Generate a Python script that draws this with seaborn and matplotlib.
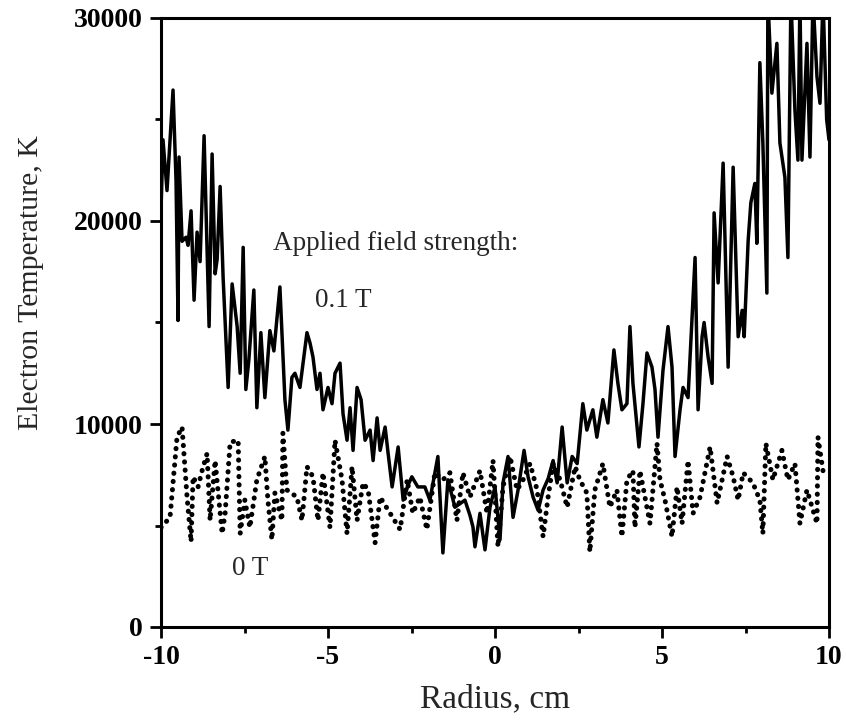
import matplotlib
matplotlib.use("Agg")
import matplotlib.pyplot as plt
from matplotlib.ticker import MultipleLocator, FixedLocator
import seaborn as sns
import pandas as pd

# ---- data ----
r_01T = [-10.00, -9.94, -9.82, -9.64, -9.55, -9.49, -9.46, -9.37, -9.25, -9.19,
         -9.10, -9.01, -8.92, -8.83, -8.71, -8.56, -8.47, -8.38, -8.32, -8.23,
         -8.14, -7.99, -7.87, -7.72, -7.63, -7.54, -7.46, -7.37, -7.22, -7.13,
         -7.01, -6.89, -6.74, -6.62, -6.44, -6.29, -6.20, -6.08, -5.99, -5.84,
         -5.63, -5.54, -5.45, -5.33, -5.24, -5.15, -5.00, -4.88, -4.79, -4.64,
         -4.55, -4.43, -4.34, -4.25, -4.13, -4.01, -3.89, -3.74, -3.65, -3.53,
         -3.44, -3.29, -3.20, -3.08, -2.90, -2.75, -2.60, -2.49, -2.31, -2.10,
         -1.95, -1.71, -1.56, -1.41, -1.20, -0.90, -0.75, -0.66, -0.60, -0.45,
         -0.30, -0.15, 0.00, 0.15, 0.24, 0.39, 0.54, 0.69, 0.87, 0.99,
         1.14, 1.29, 1.44, 1.59, 1.74, 1.86, 2.01, 2.16, 2.31, 2.46,
         2.63, 2.75, 2.93, 3.05, 3.23, 3.38, 3.56, 3.68, 3.80, 3.95,
         4.04, 4.13, 4.31, 4.43, 4.55, 4.70, 4.79, 4.88, 5.03, 5.18,
         5.30, 5.39, 5.54, 5.63, 5.78, 5.99, 6.08, 6.20, 6.26, 6.38,
         6.50, 6.56, 6.68, 6.83, 6.98, 7.13, 7.28, 7.40, 7.46, 7.58,
         7.66, 7.78, 7.84, 7.93, 8.02, 8.14, 8.17, 8.29, 8.44, 8.53,
         8.68, 8.77, 8.86, 8.98, 9.07, 9.13, 9.19, 9.34, 9.43, 9.52,
         9.64, 9.73, 9.82, 9.93, 10.00]
T_01T = [20500, 24000, 21500, 26450, 22000, 15100, 23150, 19000, 19200, 18800,
         20500, 16100, 19450, 18000, 24200, 14800, 23300, 17400, 18100, 21700,
         17200, 11800, 16900, 14800, 12500, 18700, 11700, 13150, 16600, 10800,
         14500, 11300, 14600, 13600, 16750, 11200, 9700, 12300, 12500, 11800,
         14500, 14000, 13300, 11700, 12500, 10700, 11800, 11000, 12500, 13000,
         10500, 9200, 10800, 8700, 11800, 11200, 9200, 9700, 8200, 10300,
         8700, 9850, 8550, 6900, 8870, 6250, 7000, 7400, 6900, 6900,
         6250, 8400, 3650, 7250, 5900, 6250, 5500, 4930, 3950, 5600,
         3800, 5900, 6900, 4300, 7100, 8400, 5400, 6750, 8700, 7400,
         6400, 5750, 6750, 7300, 8200, 7100, 9850, 7100, 8400, 8050,
         11000, 9700, 10700, 9350, 11200, 10050, 13650, 12000, 10700, 11000,
         14800, 12000, 8870, 11000, 13500, 12800, 11700, 9350, 12650, 14800,
         12800, 8400, 10700, 11800, 11300, 18200, 10700, 14300, 15000, 13300,
         12000, 20400, 16950, 22850, 12800, 22650, 14300, 15600, 14300, 19050,
         20900, 21850, 18900, 27800, 23850, 16450, 31000, 26300, 28750, 23850,
         22150, 18200, 31000, 25450, 23000, 31000, 23000, 28750, 23150, 31000,
         27100, 25800, 31000, 25000, 24000]

r_0T = [-10.00, -9.73, -9.52, -9.37, -9.22, -9.10, -9.04, -8.89, -8.77, -8.62,
        -8.53, -8.38, -8.17, -8.08, -7.93, -7.69, -7.63, -7.49, -7.34, -7.13,
        -6.89, -6.80, -6.68, -6.59, -6.38, -6.35, -6.23, -5.93, -5.78, -5.63,
        -5.45, -5.30, -5.15, -4.94, -4.79, -4.58, -4.43, -4.28, -4.13, -3.95,
        -3.80, -3.59, -3.44, -3.14, -2.84, -2.63, -2.46, -2.25, -2.04, -1.80,
        -1.56, -1.35, -1.14, -0.96, -0.75, -0.45, -0.24, -0.06, 0.09, 0.24,
        0.45, 0.66, 0.84, 1.05, 1.26, 1.44, 1.59, 1.74, 1.95, 2.16,
        2.40, 2.54, 2.75, 2.84, 2.99, 3.23, 3.44, 3.65, 3.80, 3.95,
        4.13, 4.19, 4.34, 4.64, 4.85, 4.94, 5.09, 5.30, 5.45, 5.60,
        5.78, 5.93, 6.14, 6.44, 6.65, 6.95, 7.13, 7.28, 7.43, 7.72,
        7.93, 8.02, 8.11, 8.32, 8.59, 8.77, 8.98, 9.13, 9.34, 9.64,
        9.67, 9.82, 9.97]
T_0T = [4900, 5400, 9350, 9850, 6400, 4200, 7400, 6900, 7700, 8550,
        5250, 8200, 4600, 5600, 9100, 9200, 4600, 6250, 4900, 7250,
        8400, 6250, 4300, 6600, 5250, 9550, 6750, 6400, 5250, 7900,
        7400, 5250, 7600, 4900, 9200, 7250, 4600, 7900, 5250, 7100,
        6750, 4150, 6400, 5600, 4800, 7250, 5600, 6400, 4800, 7600,
        7250, 7600, 5250, 7600, 6400, 7700, 5600, 8200, 3950, 6900,
        8400, 6750, 7250, 8050, 6750, 4450, 6400, 8050, 7250, 5900,
        7900, 7250, 6600, 3700, 6750, 8050, 5900, 6750, 4450, 7250,
        7700, 4900, 7700, 5100, 9050, 7250, 6250, 4450, 6900, 5100,
        8200, 5600, 6400, 8870, 6100, 8400, 7400, 6250, 7600, 7100,
        6250, 4600, 9050, 7250, 8700, 7250, 8050, 5100, 6750, 5100,
        9350, 7700, 7600]

x_ticks = [-10, -5, 0, 5, 10]
y_ticks = [0, 10000, 20000, 30000]

df1 = pd.DataFrame({"Radius": r_01T, "Te": T_01T})
df0 = pd.DataFrame({"Radius": r_0T, "Te": T_0T})

sns.set_theme(style="ticks")
plt.rcParams["font.family"] = ["Liberation Serif", "DejaVu Serif"]

fig = plt.figure(figsize=(8.46, 7.25), dpi=100)
ax = fig.add_axes([161/846, 1-627/725, (829-161)/846, (627-18)/725])

sns.lineplot(data=df1, x="Radius", y="Te", ax=ax, color="black", lw=2.5,
             sort=False, estimator=None)
sns.lineplot(data=df0, x="Radius", y="Te", ax=ax, color="black", lw=3.6,
             sort=False, estimator=None, linestyle=(0, (0.05, 1.6)),
             dash_capstyle="round")

ax.set_xlim(-10, 10)
ax.set_ylim(0, 30000)
ax.xaxis.set_major_locator(FixedLocator(x_ticks))
ax.xaxis.set_minor_locator(MultipleLocator(2.5))
ax.yaxis.set_major_locator(FixedLocator(y_ticks))
ax.yaxis.set_minor_locator(MultipleLocator(5000))
ax.set_xticklabels([str(t) for t in x_ticks], fontsize=20, fontweight="bold")
ax.set_yticklabels([str(t) for t in y_ticks], fontsize=20, fontweight="bold")
ax.tick_params(axis="both", which="major", direction="out", length=8, width=2, colors="black", pad=5)
ax.tick_params(axis="both", which="minor", direction="out", length=4, width=2, colors="black")

for s in ax.spines.values():
    s.set_visible(True)
    s.set_linewidth(2.2)
    s.set_color("black")

ax.set_xlabel("Radius, cm", fontsize=24)
ax.set_ylabel("Electron Temperature, K", fontsize=21.5)
ax.xaxis.set_label_coords(0.5, (627-684)/609)
ax.yaxis.set_label_coords((44-161)/668, (627-283)/609)

ax.text(-6.65, 18900, "Applied field strength:", fontsize=19.5, va="center", ha="left")
ax.text(-5.39, 16100, "0.1 T", fontsize=19.5, va="center", ha="left")
ax.text(-7.87, 2900, "0 T", fontsize=19.5, va="center", ha="left")

fig.savefig("out.png", dpi=100)
